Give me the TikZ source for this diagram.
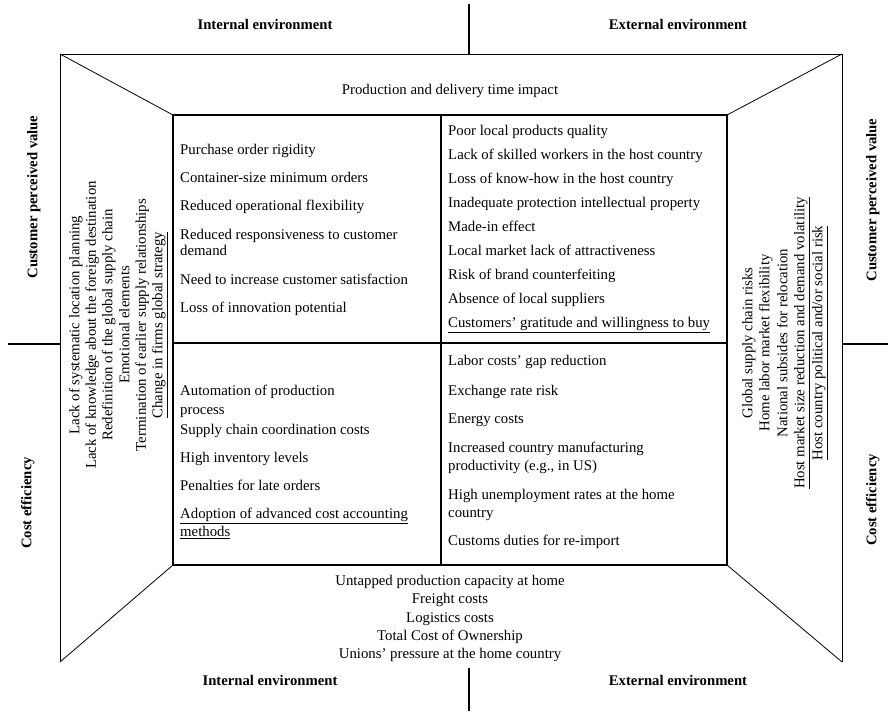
\documentclass[tikz,border=0pt]{standalone}
\usepackage{fontspec}
\setmainfont{Liberation Serif}
\begin{document}
\begin{tikzpicture}[x=1pt,y=-1pt,
  txt/.style={inner sep=0pt, font=\fontsize{14.8}{16.8}\selectfont},
  cell/.style={txt, anchor=mid west},
  ctext/.style={txt, anchor=mid},
  side/.style={txt, anchor=mid, rotate=90},
  head/.style={inner sep=0pt, anchor=mid, font=\fontsize{14.7}{16}\selectfont\bfseries},
  vhead/.style={head, rotate=90},
  frame/.style={line width=0.8pt},
  grid/.style={line width=1.1pt},
  divider/.style={line width=1.7pt},
  tick/.style={line width=2pt}]
\useasboundingbox (0,0) rectangle (890,711);

% corner points of the outer frame and the inner matrix
\coordinate (otl) at (60,54);
\coordinate (otr) at (842,54);
\coordinate (obl) at (60,662);
\coordinate (obr) at (842,662);
\coordinate (itl) at (173,115);
\coordinate (itr) at (727,115);
\coordinate (ibl) at (173,565);
\coordinate (ibr) at (727,565);
\coordinate (mtop) at (441,115);
\coordinate (mbot) at (441,565);
\coordinate (mleft) at (173,343);
\coordinate (mright) at (727,343);

% axis ticks
\coordinate (tt1) at (469,4);
\coordinate (tt2) at (469,54);
\coordinate (bt1) at (469,668);
\coordinate (bt2) at (469,711);
\coordinate (lt1) at (8,344);
\coordinate (lt2) at (60,344);
\coordinate (rt1) at (842,344);
\coordinate (rt2) at (888,344);

% outer frame (open at the bottom)
\draw[frame] (obl) -- (otl) -- (otr) -- (obr);
% perspective edges
\draw[frame] (otl) -- (itl);
\draw[frame] (otr) -- (itr);
\draw[frame] (obl) -- (ibl);
\draw[frame] (obr) -- (ibr);
% inner matrix
\draw[grid] (itl) rectangle (ibr);
\draw[divider] (mtop) -- (mbot);
\draw[divider] (mleft) -- (mright);
% axis ticks
\draw[tick] (tt1) -- (tt2);
\draw[tick] (bt1) -- (bt2);
\draw[tick] (lt1) -- (lt2);
\draw[tick] (rt1) -- (rt2);

% headings
\node[head] (hint) at (265,27) {Internal environment};
\node[head] (hext) at (678,27) {External environment};
\node[head] (bint) at (270,683) {Internal environment};
\node[head] (bext) at (678,683) {External environment};
\node[vhead] (lcpv) at (35,197) {Customer perceived value};
\node[vhead] (lce) at (29,503) {Cost efficiency};
\node[vhead] (rcpv) at (874,200) {Customer perceived value};
\node[vhead] (rce) at (874,500) {Cost efficiency};

% top band
\node[ctext] (top) at (450,92) {Production and delivery time impact};

% bottom band
\foreach \y/\t [count=\i] in {583/Untapped production capacity at home,
    601/Freight costs, 620/Logistics costs, 638/Total Cost of Ownership,
    656/Unions' pressure at the home country}
  \node[ctext, name=bot-\i] at (450,\y) {\t};

% left band
\foreach \x/\t [count=\i] in {77/Lack of systematic location planning,
    93.5/Lack of knowledge about the foreign destination,
    110/Redefinition of the global supply chain,
    127/Emotional elements,
    143.5/Termination of earlier supply relationships,
    160/\underline{Change in firms global strategy}}
  \node[side, name=lb-\i] at (\x,325) {\t};

% right band
\foreach \x/\t [count=\i] in {750/Global supply chain risks,
    767/Home labor market flexibility,
    785/National subsides for relocation,
    802/\underline{Host market size reduction and demand volatility},
    820/\underline{Host country political and/or social risk}}
  \node[side, name=rb-\i] at (\x,343) {\t};

% internal / customer value
\foreach \y/\t [count=\i] in {152/Purchase order rigidity,
    180/Container-size minimum orders,
    208/Reduced operational flexibility,
    237/Reduced responsiveness to customer,
    253/demand,
    282/Need to increase customer satisfaction,
    310/Loss of innovation potential}
  \node[cell, name=iv-\i] at (180,\y) {\t};

% external / customer value
\foreach \y/\t [count=\i] in {133/Poor local products quality,
    157/Lack of skilled workers in the host country,
    181/Loss of know-how in the host country,
    205/Inadequate protection intellectual property,
    229/Made-in effect,
    253/Local market lack of attractiveness,
    277/Risk of brand counterfeiting,
    301/Absence of local suppliers,
    325/\underline{Customers' gratitude and willingness to buy}}
  \node[cell, name=ev-\i] at (448,\y) {\t};

% internal / cost
\foreach \y/\t [count=\i] in {393/Automation of production,
    412/process,
    432/Supply chain coordination costs,
    460/High inventory levels,
    488/Penalties for late orders,
    516/\underline{Adoption of advanced cost accounting},
    534/\underline{methods}}
  \node[cell, name=ic-\i] at (180,\y) {\t};

% external / cost
\foreach \y/\t [count=\i] in {363/Labor costs{\char"27} gap reduction,
    393/Exchange rate risk,
    421/Energy costs,
    450/Increased country manufacturing,
    468/{productivity (e.g., in US)},
    497/High unemployment rates at the home,
    515/country,
    543/Customs duties for re-import}
  \node[cell, name=ec-\i] at (448,\y) {\t};
\end{tikzpicture}
\end{document}
